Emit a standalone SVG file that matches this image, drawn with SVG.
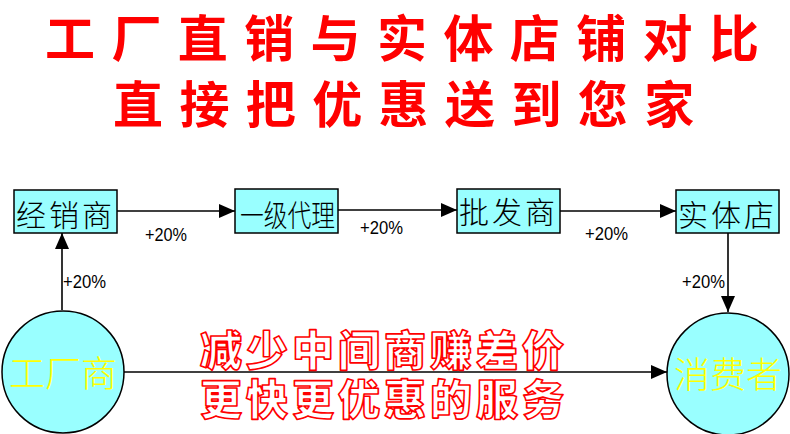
<svg xmlns="http://www.w3.org/2000/svg" width="790" height="434" viewBox="0 0 790 434">
<defs>
<style>
.title{font-family:"Noto Sans CJK SC",sans-serif;font-weight:700;font-size:50px;fill:#ff0000;letter-spacing:16.4px}
.box{fill:#99ffff;stroke:#000;stroke-width:1.5}
.boxt{font-family:"Noto Sans CJK SC",sans-serif;font-weight:300;font-size:30px;fill:#000;text-anchor:middle}
.circt{font-family:"Noto Sans CJK SC",sans-serif;font-weight:300;font-size:36px;fill:#ffff00;text-anchor:middle}
.pct{font-family:"Liberation Sans",Arial,sans-serif;font-size:18px;fill:#000}
.conn{stroke:#000;stroke-width:1.6;fill:none}
.slogan{font-family:"Noto Sans CJK SC",sans-serif;font-weight:900;font-size:42px;letter-spacing:4px;fill:#ffffff;stroke:#ff0000;stroke-width:1.6;stroke-linejoin:round}
</style>
<marker id="arr" markerUnits="userSpaceOnUse" markerWidth="17" markerHeight="15" refX="16" refY="7" orient="auto">
<path d="M0,0 L16,7 L0,14 Z" fill="#000"/>
</marker>
</defs>
<rect width="790" height="434" fill="#ffffff"/>
<g id="title">
<text class="title" x="45" y="57">工厂直销与实体店铺对比</text>
<text class="title" x="113" y="123">直接把优惠送到您家</text>
</g>
<g id="connectors">
<line class="conn" x1="117" y1="211" x2="235" y2="211" marker-end="url(#arr)"/>
<line class="conn" x1="338" y1="210" x2="457" y2="210" marker-end="url(#arr)"/>
<line class="conn" x1="560" y1="211" x2="676" y2="211" marker-end="url(#arr)"/>
<line class="conn" x1="728" y1="233" x2="728" y2="312" marker-end="url(#arr)"/>
<line class="conn" x1="62" y1="310" x2="62" y2="233" marker-end="url(#arr)"/>
<line class="conn" x1="124" y1="372" x2="667" y2="372" marker-end="url(#arr)"/>
<text class="pct" x="145" y="241" textLength="42" lengthAdjust="spacingAndGlyphs">+20%</text>
<text class="pct" x="360" y="234" textLength="43" lengthAdjust="spacingAndGlyphs">+20%</text>
<text class="pct" x="585" y="240" textLength="43" lengthAdjust="spacingAndGlyphs">+20%</text>
<text class="pct" x="682" y="288" textLength="43" lengthAdjust="spacingAndGlyphs">+20%</text>
<text class="pct" x="63" y="288" textLength="43" lengthAdjust="spacingAndGlyphs">+20%</text>
</g>
<g id="node-jingxiaoshang">
<rect class="box" x="14" y="190" width="103" height="43"/>
<text class="boxt" x="65.5" y="226" letter-spacing="3">经销商</text>
</g>
<g id="node-yijidaili">
<rect class="box" x="235" y="189" width="103" height="44"/>
<text class="boxt" x="240" y="226" style="text-anchor:start" textLength="95" lengthAdjust="spacingAndGlyphs">一级代理</text>
</g>
<g id="node-pifashang">
<rect class="box" x="457" y="189" width="103" height="44"/>
<text class="boxt" x="508.5" y="223" letter-spacing="3">批发商</text>
</g>
<g id="node-shitidian">
<rect class="box" x="676" y="190" width="103" height="43"/>
<text class="boxt" x="727.5" y="226" letter-spacing="3">实体店</text>
</g>
<g id="node-gongchangshang">
<circle class="box" cx="63" cy="372" r="61"/>
<text class="circt" x="63" y="387">工厂商</text>
</g>
<g id="node-xiaofeizhe">
<circle class="box" cx="728" cy="374" r="61"/>
<text class="circt" x="728" y="388">消费者</text>
</g>
<g id="slogan">
<text class="slogan" x="200" y="366">减少中间商赚差价</text>
<text class="slogan" x="200" y="415">更快更优惠的服务</text>
</g>
</svg>
